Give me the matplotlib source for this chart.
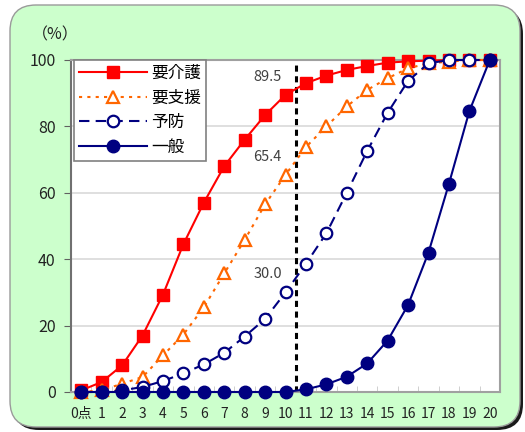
import numpy as np
import matplotlib.pyplot as plt
from matplotlib.patches import FancyBboxPatch
from matplotlib.ticker import FixedLocator

plt.rcParams['font.family'] = ['Noto Sans CJK JP', 'DejaVu Sans']

# score 0..20 and cumulative share (%) for each group
scores = list(range(21))
tick_labels = ['0点'] + [str(s) for s in scores[1:]]
series_names = ['要介護', '要支援', '予防', '一般']

kaigo = [0.5, 3.0, 8.0, 17.0, 29.3, 44.5, 57.0, 68.0, 76.0, 83.4, 89.5,
         93.0, 95.3, 97.0, 98.2, 99.2, 99.6, 99.8, 100.0, 100.0, 100.0]
shien = [0.0, 0.5, 2.5, 4.5, 11.0, 17.3, 25.5, 35.7, 45.8, 56.5, 65.4,
         73.8, 80.0, 86.0, 91.0, 94.5, 97.5, 99.0, 99.5, 100.0, 100.0]
yobo = [0.0, 0.0, 0.5, 1.5, 3.3, 5.6, 8.3, 11.8, 16.7, 22.0, 30.0,
        38.6, 47.8, 60.0, 72.6, 84.1, 93.7, 99.0, 100.0, 100.0, 100.0]
ippan = [0.0, 0.0, 0.0, 0.0, 0.0, 0.0, 0.0, 0.0, 0.0, 0.0, 0.0,
         0.8, 2.3, 4.6, 8.6, 15.5, 26.2, 42.0, 62.7, 84.6, 100.0]

W, H = 525, 432
fig = plt.figure(figsize=(W / 100, H / 100), dpi=100)

# rounded green panel behind the chart, in pixel units
bg = fig.add_axes([0, 0, 1, 1], zorder=-1)
bg.set_xlim(0, W)
bg.set_ylim(H, 0)
bg.axis('off')
shadow = FancyBboxPatch((13, 8), 510, 422, boxstyle='round,pad=0,rounding_size=26',
                        facecolor='#1a1a1a', edgecolor='none')
panel = FancyBboxPatch((10, 5), 510, 422, boxstyle='round,pad=0,rounding_size=26',
                       facecolor='#ccffcc', edgecolor='#9a9a9a', linewidth=1)
bg.add_patch(shadow)
bg.add_patch(panel)

ax = fig.add_axes([71 / W, 1 - 392 / H, (500 - 71) / W, (392 - 60) / H])
ax.set_facecolor('white')

ax.plot(scores, kaigo, color='#ff0000', lw=1.5, marker='s', ms=8,
        label=series_names[0], clip_on=False, zorder=3)
ax.plot(scores, shien, color='#ff6600', lw=1.5, ls=(0, (1.5, 2.5)), marker='^', ms=8.5,
        mfc='white', mew=1.6, label=series_names[1], clip_on=False, zorder=3)
ax.plot(scores, yobo, color='#000080', lw=1.5, ls=(0, (5, 3)), marker='o', ms=8.3,
        mfc='white', mew=1.6, label=series_names[2], clip_on=False, zorder=3)
ax.plot(scores, ippan, color='#000080', lw=1.5, marker='o', ms=9,
        label=series_names[3], clip_on=False, zorder=4)

ax.axvline(10.5, color='black', lw=2.2, ls=(0, (2, 1.5)), zorder=2)

for vals in (kaigo, shien, yobo):
    ax.annotate(f'{vals[10]:.1f}', (10, vals[10]), xytext=(-13, 13),
                textcoords='offset points', ha='center', va='center',
                fontsize=10.5, color='#404040', zorder=5)

ax.set_xlim(-0.5, 20.5)
ax.set_ylim(0, 100)
ax.set_xticks(scores)
ax.set_xticklabels(tick_labels, fontsize=10, color='#222222')
ax.xaxis.set_minor_locator(FixedLocator(np.arange(0.5, 20, 1)))
ax.tick_params(axis='x', which='major', length=0, pad=11)
ax.tick_params(axis='x', which='minor', direction='in', length=4, color='#c8c8c8')
ax.set_yticks(range(0, 101, 20))
ax.tick_params(axis='y', direction='out', length=5, color='#606060',
               labelsize=11.5, labelcolor='#222222', pad=6)
ax.yaxis.grid(True, color='#d9d9d9', lw=1.2)
ax.set_axisbelow(True)
for side in ('top', 'right', 'bottom'):
    ax.spines[side].set_color('#a0a0a0')
    ax.spines[side].set_linewidth(1.5)
ax.spines['left'].set_color('#707070')
ax.spines['left'].set_linewidth(1.5)

fig.text(55 / W, 1 - 35 / H, '（%）', ha='center', va='center', fontsize=11.5, color='#222222')

leg = ax.legend(loc='upper left', bbox_to_anchor=(0.006, 1.0), fontsize=12,
                handlelength=4.1, handletextpad=0.25, labelspacing=0.45,
                borderpad=0.3, borderaxespad=0, fancybox=False, framealpha=1)
leg.get_frame().set_edgecolor('#808080')
leg.get_frame().set_linewidth(1.2)
leg.set_zorder(6)

fig.savefig('out.png', dpi=100)
